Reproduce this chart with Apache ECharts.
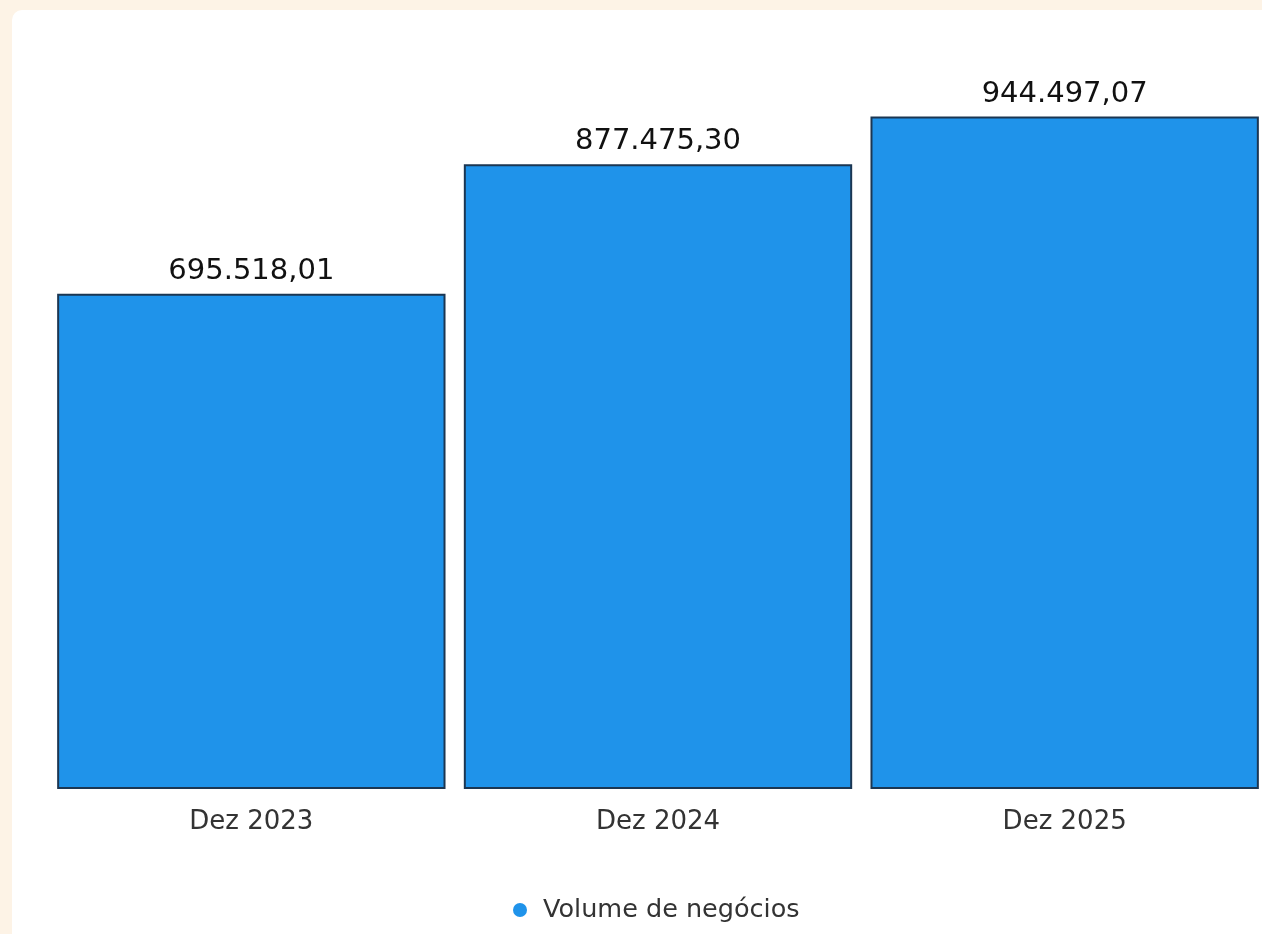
<!DOCTYPE html>
<html>
<head>
<meta charset="utf-8">
<script src="https://cdn.jsdelivr.net/npm/echarts@6/dist/echarts.min.js"></script>
<style>
  html, body { margin: 0; padding: 0; width: 1262px; height: 934px; overflow: hidden; background: #fdf3e6; }
  #panel { position: absolute; left: 12px; top: 10px; width: 1290px; height: 960px; background: #ffffff; border-radius: 10px; }
  #chart { position: absolute; left: 0; top: 0; width: 1300px; height: 934px; }
</style>
</head>
<body>
<div id="panel"></div>
<div id="chart"></div>
<script>
const categories = ['Dez 2023', 'Dez 2024', 'Dez 2025'];
const seriesName = 'Volume de negócios';
const values = [695518.01, 877475.30, 944497.07];

function fmtBR(v) {
  const parts = v.toFixed(2).split('.');
  const intPart = parts[0].replace(/\B(?=(\d{3})+(?!\d))/g, '.');
  return intPart + ',' + parts[1];
}

const chart = echarts.init(document.getElementById('chart'), null, { renderer: 'canvas' });
chart.setOption({
  backgroundColor: 'transparent',
  animation: false,
  textStyle: { fontFamily: 'DejaVu Sans' },
  grid: { left: 48, right: 32, top: 77, bottom: 145, containLabel: false },
  legend: {
    top: 892,
    left: 508,
    icon: 'circle',
    itemWidth: 14,
    itemHeight: 14,
    itemStyle: { borderWidth: 0 },
    textStyle: { fontSize: 25.5, color: '#333333', fontFamily: 'DejaVu Sans', padding: [0, 0, 0, 11] },
    data: [seriesName]
  },
  xAxis: {
    type: 'category',
    data: categories,
    axisLine: { show: false },
    axisTick: { show: false },
    axisLabel: { fontSize: 26, color: '#333333', margin: 20, fontFamily: 'DejaVu Sans' }
  },
  yAxis: {
    type: 'value',
    min: 0,
    max: 1000000,
    show: false,
    splitLine: { show: false }
  },
  series: [{
    name: seriesName,
    type: 'bar',
    data: values,
    barCategoryGap: '4.5%',
    itemStyle: { color: '#1f93ea', borderColor: '#1b3652', borderWidth: 2 },
    label: {
      show: true,
      position: 'top',
      distance: 8,
      fontSize: 29,
      color: '#111111',
      fontFamily: 'DejaVu Sans',
      formatter: p => fmtBR(p.value)
    }
  }]
});
</script>
</body>
</html>
